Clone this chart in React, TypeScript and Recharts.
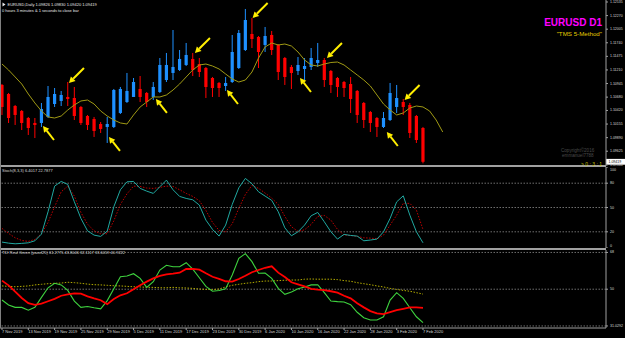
import React from 'react';
import { ComposedChart, Bar, Line, Scatter, XAxis, YAxis, ReferenceLine } from 'recharts';

// ---------- data ----------
const opens = [1.10917, 1.10741, 1.10507, 1.10410, 1.10273, 1.10176, 1.10176, 1.10293, 1.10546, 1.10605, 1.10683, 1.10663, 1.10488, 1.10312, 1.10254, 1.10156, 1.10098, 1.10098, 1.10371, 1.10585, 1.10683, 1.10839, 1.10761, 1.10683, 1.10780, 1.11014, 1.11151, 1.11209, 1.11307, 1.11424, 1.11326, 1.11248, 1.11053, 1.10956, 1.10897, 1.10975, 1.11248, 1.11599, 1.11911, 1.11853, 1.11697, 1.11892, 1.11697, 1.11443, 1.11268, 1.11190, 1.11229, 1.11268, 1.11346, 1.11404, 1.11190, 1.11053, 1.10975, 1.10936, 1.10800, 1.10566, 1.10390, 1.10273, 1.10098, 1.10234, 1.10488, 1.10585, 1.10527, 1.10312, 1.10078];
const highs = [1.10936, 1.10761, 1.10527, 1.10429, 1.10293, 1.10273, 1.10566, 1.10897, 1.10858, 1.10800, 1.10975, 1.10878, 1.10507, 1.10332, 1.10293, 1.10195, 1.10293, 1.10839, 1.10878, 1.11151, 1.11053, 1.11092, 1.10780, 1.10975, 1.11443, 1.11541, 1.11989, 1.11599, 1.11736, 1.11541, 1.11443, 1.11268, 1.11073, 1.10975, 1.11073, 1.11892, 1.11989, 1.12399, 1.12223, 1.11872, 1.12048, 1.11970, 1.11716, 1.11463, 1.11307, 1.11463, 1.11443, 1.11638, 1.11736, 1.11443, 1.11209, 1.11073, 1.10995, 1.11073, 1.10819, 1.10585, 1.10410, 1.10293, 1.10390, 1.10956, 1.10917, 1.10644, 1.10566, 1.10332, 1.10098];
const lows = [1.10332, 1.10176, 1.10137, 1.10039, 1.09942, 1.09883, 1.10098, 1.10273, 1.10488, 1.10507, 1.10507, 1.10234, 1.10137, 1.10039, 1.09903, 1.09981, 1.09786, 1.10078, 1.10351, 1.10566, 1.10683, 1.10585, 1.10488, 1.10624, 1.10761, 1.10975, 1.11014, 1.11190, 1.11287, 1.11092, 1.11073, 1.10663, 1.10683, 1.10683, 1.10800, 1.10956, 1.11229, 1.11580, 1.11638, 1.11248, 1.11560, 1.11502, 1.11014, 1.10917, 1.10839, 1.11112, 1.11014, 1.11209, 1.11268, 1.10878, 1.10761, 1.10683, 1.10683, 1.10371, 1.10176, 1.10078, 1.10000, 1.09903, 1.10078, 1.10215, 1.10371, 1.10332, 1.09883, 1.09786, 1.09389];
const closes = [1.10488, 1.10273, 1.10332, 1.10176, 1.10078, 1.10137, 1.10449, 1.10683, 1.10741, 1.10722, 1.10644, 1.10312, 1.10176, 1.10137, 1.10020, 1.10059, 1.10156, 1.10819, 1.10839, 1.10800, 1.10975, 1.10683, 1.10585, 1.10878, 1.11307, 1.11307, 1.11268, 1.11424, 1.11502, 1.11209, 1.11170, 1.10878, 1.10858, 1.10858, 1.10956, 1.11560, 1.11931, 1.12184, 1.11814, 1.11560, 1.11872, 1.11599, 1.11170, 1.11073, 1.11151, 1.11307, 1.11287, 1.11443, 1.11404, 1.11014, 1.10917, 1.10878, 1.10858, 1.10644, 1.10332, 1.10234, 1.10176, 1.10098, 1.10273, 1.10761, 1.10663, 1.10488, 1.09981, 1.09844, 1.09419];
// shifted moving average (extends 3 bars past the last candle)
const maValues = [1.11326, 1.11209, 1.11073, 1.10936, 1.10741, 1.10566, 1.10410, 1.10293, 1.10273, 1.10312, 1.10429, 1.10527, 1.10605, 1.10624, 1.10546, 1.10410, 1.10312, 1.10234, 1.10176, 1.10156, 1.10332, 1.10488, 1.10585, 1.10683, 1.10683, 1.10722, 1.10819, 1.10936, 1.11073, 1.11209, 1.11307, 1.11326, 1.11287, 1.11229, 1.11131, 1.11034, 1.10975, 1.11014, 1.11170, 1.11443, 1.11658, 1.11736, 1.11697, 1.11716, 1.11677, 1.11560, 1.11404, 1.11307, 1.11287, 1.11326, 1.11355, 1.11365, 1.11307, 1.11209, 1.11112, 1.11014, 1.10897, 1.10722, 1.10546, 1.10429, 1.10332, 1.10371, 1.10468, 1.10507, 1.10488, 1.10410, 1.10234, 1.10000];
const stochMain = [7.3, 6.0, 5.2, 5.7, 6.4, 8.9, 17.2, 44.7, 76.4, 82.2, 78.5, 57.0, 36.5, 21.2, 15.9, 14.3, 20.9, 50.9, 71.9, 81.7, 82.2, 73.6, 70.2, 67.4, 75.6, 83.8, 71.9, 63.7, 61.2, 59.5, 53.0, 34.4, 23.0, 14.7, 28.3, 53.8, 74.3, 85.9, 79.3, 69.4, 64.1, 58.8, 44.7, 24.9, 15.1, 20.0, 28.3, 39.8, 43.9, 32.3, 20.0, 11.0, 16.8, 15.5, 14.7, 8.9, 9.8, 11.0, 20.0, 36.5, 57.0, 64.4, 40.6, 20.0, 6.4];
const stochSignal = [24.2, 18.0, 12.6, 9.3, 8.1, 10.6, 17.6, 31.6, 50.9, 69.4, 76.4, 64.1, 43.9, 29.5, 21.2, 17.6, 17.6, 33.6, 53.8, 66.9, 76.4, 76.0, 74.0, 73.6, 74.8, 76.4, 76.0, 71.9, 67.4, 63.7, 58.3, 46.4, 31.6, 21.7, 20.0, 29.9, 48.9, 66.2, 77.3, 73.6, 67.8, 61.6, 53.8, 39.0, 26.2, 20.5, 22.5, 29.1, 39.0, 40.2, 34.4, 23.0, 15.9, 15.5, 14.3, 12.6, 12.2, 11.4, 15.9, 28.3, 40.6, 55.1, 55.1, 46.8, 22.8];
const tdiGreen = [44.7, 42.3, 41.1, 41.1, 39.7, 41.1, 46.0, 50.7, 52.9, 52.1, 49.4, 44.2, 41.1, 41.5, 40.9, 40.4, 44.4, 50.2, 56.1, 56.5, 57.6, 55.3, 50.9, 53.7, 59.4, 61.7, 61.0, 61.0, 63.0, 59.8, 55.6, 51.4, 49.0, 49.4, 50.2, 57.0, 65.1, 67.4, 63.5, 57.8, 57.9, 55.3, 50.4, 47.5, 48.6, 50.2, 51.1, 52.1, 52.2, 48.3, 44.2, 43.9, 43.7, 42.4, 38.7, 36.0, 34.9, 34.9, 36.5, 44.7, 48.3, 45.5, 40.9, 36.5, 33.6];
const tdiRed = [54.2, 51.9, 48.8, 45.7, 43.2, 42.3, 42.9, 44.1, 45.3, 46.8, 47.5, 48.0, 47.8, 46.5, 45.5, 44.6, 42.7, 45.2, 47.0, 48.0, 50.0, 51.9, 53.7, 55.3, 56.5, 57.3, 57.6, 58.1, 59.9, 60.0, 59.6, 57.8, 56.1, 55.1, 53.9, 53.7, 55.0, 56.6, 58.3, 59.4, 60.5, 61.2, 58.1, 56.0, 53.4, 52.4, 51.4, 50.2, 49.8, 49.6, 49.0, 48.3, 46.8, 45.5, 43.1, 41.1, 39.3, 38.2, 37.8, 38.8, 39.7, 40.4, 41.1, 41.1, 40.9];
const tdiBase = [51.6, 51.4, 51.2, 51.4, 51.6, 52.1, 52.4, 52.7, 52.9, 53.0, 53.4, 53.2, 52.9, 52.5, 52.2, 52.1, 51.9, 51.7, 51.6, 51.4, 51.2, 51.1, 50.9, 50.9, 50.7, 50.7, 50.9, 50.7, 50.6, 50.4, 50.1, 49.9, 49.8, 50.1, 51.1, 51.9, 52.4, 52.9, 53.2, 53.7, 54.0, 54.0, 54.2, 54.4, 54.5, 54.5, 54.9, 55.0, 54.9, 54.9, 54.9, 54.7, 54.2, 53.9, 53.2, 52.7, 52.2, 51.6, 51.1, 50.4, 49.9, 49.4, 49.0, 48.3, 47.6];

const priceTicks = [1.12535, 1.12270, 1.12005, 1.11740, 1.11475, 1.11210, 1.10945, 1.10680, 1.10420, 1.10155, 1.09890, 1.09625, 1.09360];
const stochTicks = [100, 80, 50, 20, 0];
const stochLevels = [80, 50, 20];
const tdiLevels = [68, 50, 32];
const tdiTicks = [68, 50, 32];
const tdiTickLabels = ['68', '50', '31.0292'];
const dateTickBars = [0, 4, 8, 12, 16, 20, 24, 28, 32, 36, 40, 44, 48, 52, 56, 60, 64];
const dateLabels = ['7 Nov 2019', '13 Nov 2019', '19 Nov 2019', '25 Nov 2019', '29 Nov 2019', '5 Dec 2019', '11 Dec 2019', '17 Dec 2019', '23 Dec 2019', '30 Dec 2019', '6 Jan 2020', '10 Jan 2020', '16 Jan 2020', '22 Jan 2020', '28 Jan 2020', '3 Feb 2020', '7 Feb 2020'];

// signal arrows (tip position: bar index, price)
const arrowBars = [6.23, 10.18, 16.26, 23.4, 29.33, 34.2, 38.1, 45.3, 49.4, 58.5, 61.2];
const arrowPrices = [1.10117, 1.10956, 1.09903, 1.10644, 1.11541, 1.10819, 1.12223, 1.11053, 1.11443, 1.10000, 1.10624];
const arrowSides = ['below', 'above', 'below', 'below', 'above', 'below', 'above', 'below', 'above', 'below', 'above'];

// ---------- styling ----------
const X_DOMAIN: [number, number] = [-0.304, 91.82];
const PRICE_DOMAIN: [number, number] = [1.09337, 1.12574];
const TDI_DOMAIN: [number, number] = [31.0, 69.2];
const BLUE = '#1e90ff';
const RED = '#ff0000';
const FRAME = '#a0a0a0';
const FONT = 'Liberation Sans, Arial, sans-serif';
const AXIS_W = 19;

const candleRows = opens.map((o, i) => ({ i, o, h: highs[i], l: lows[i], c: closes[i], range: [lows[i], highs[i]] }));
const maRows = maValues.map((ma, i) => ({ i, ma }));
const arrowRows = arrowBars.map((i, k) => ({ i, p: arrowPrices[k], side: arrowSides[k] }));
const stochRows = stochMain.map((m, i) => ({ i, m, s: stochSignal[i] }));
const tdiRows = tdiGreen.map((g, i) => ({ i, g, r: tdiRed[i], b: tdiBase[i] }));

const Candle = (props: any) => {
  const { x, y, width, height, payload } = props;
  if (!payload || height == null || isNaN(y)) return null;
  const cx = x + width / 2;
  const { o, h, l, c } = payload;
  const toY = (p: number) => y + ((h - p) / (h - l)) * height;
  const color = c >= o ? BLUE : RED;
  const top = toY(Math.max(o, c));
  const bot = toY(Math.min(o, c));
  return (
    <g>
      <rect x={cx - 0.5} y={y} width={1} height={height} fill={color} />
      <rect x={cx - 1.6} y={top} width={3.2} height={Math.max(bot - top, 1)} fill={color} />
    </g>
  );
};

const Arrow = (props: any) => {
  const { cx, cy, payload } = props;
  if (cx == null || cy == null) return null;
  const below = payload.side === 'below';
  const dx = below ? 11 : 15;
  const dy = below ? 14 : -15;
  const len = Math.hypot(dx, dy);
  const ux = dx / len;
  const uy = dy / len;
  const hl = 6;
  const hw = 3.3;
  const bx = cx + ux * hl;
  const by = cy + uy * hl;
  const px = -uy;
  const py = ux;
  return (
    <g>
      <line x1={cx + dx} y1={cy + dy} x2={bx} y2={by} stroke="#ffee00" strokeWidth={2} />
      <polygon points={`${cx},${cy} ${bx + px * hw},${by + py * hw} ${bx - px * hw},${by - py * hw}`} fill="#ffee00" />
    </g>
  );
};

const PriceTick = (props: any) => {
  const { x, y, payload } = props;
  return (
    <text x={x} y={y} fontSize={3.5} fontFamily={FONT} fill="#d8d8d8" textAnchor="start" dominantBaseline="central">
      {Number(payload.value).toFixed(5)}
    </text>
  );
};

const StochTick = (props: any) => {
  const { x, y, payload } = props;
  const v = payload.value;
  const dy = v === 100 ? 3 : v === 0 ? -2.5 : 0;
  return (
    <text x={x} y={y + dy} fontSize={3.6} fontFamily={FONT} fill="#d8d8d8" textAnchor="start" dominantBaseline="central">
      {v}
    </text>
  );
};

const TdiTick = (props: any) => {
  const { x, y, payload } = props;
  const k = tdiTicks.indexOf(payload.value);
  const dy = k === 2 ? 0.5 : 0;
  return (
    <text x={x} y={y + dy} fontSize={3.6} fontFamily={FONT} fill="#d8d8d8" textAnchor="start" dominantBaseline="central">
      {tdiTickLabels[k]}
    </text>
  );
};

const DateTick = (props: any) => {
  const { x, y, payload } = props;
  const k = dateTickBars.indexOf(payload.value);
  return (
    <text x={x} y={y} fontSize={4} fontFamily={FONT} fill="#d8d8d8" textAnchor="start" dominantBaseline="central">
      {dateLabels[k]}
    </text>
  );
};

const PriceBox = (props: any) => {
  const vb = props.viewBox;
  if (!vb) return null;
  const xr = vb.x + vb.width;
  return (
    <g>
      <rect x={xr} y={vb.y - 2.9} width={AXIS_W} height={5.8} fill="#ffffff" />
      <text x={xr + 2.5} y={vb.y} fontSize={3.5} fontFamily={FONT} fill="#000" dominantBaseline="central">
        {props.text}
      </text>
    </g>
  );
};

const panel = (top: number, height: number): React.CSSProperties => ({ position: 'absolute', left: 0, top, width: 625, height });

export default function App() {
  const lastClose = closes[closes.length - 1];
  return (
    <div style={{ position: 'fixed', left: 0, top: 0, width: 625, height: 338, background: '#000', overflow: 'hidden' }}>
      {/* main price panel */}
      <div style={panel(0, 166)}>
        <ComposedChart width={625} height={166} data={candleRows} margin={{ top: 0, right: 0, bottom: 0, left: 0 }}>
          <XAxis dataKey="i" type="number" domain={X_DOMAIN} allowDataOverflow hide />
          <YAxis
            orientation="right"
            width={AXIS_W}
            type="number"
            domain={PRICE_DOMAIN}
            allowDataOverflow
            ticks={priceTicks}
            interval={0}
            tick={<PriceTick />}
            tickSize={2}
            tickMargin={2}
            axisLine={{ stroke: FRAME }}
            tickLine={{ stroke: FRAME }}
          />
          <Bar dataKey="range" barSize={3} shape={<Candle />} isAnimationActive={false} />
          <Line data={maRows} dataKey="ma" stroke="#a09a14" strokeWidth={1} dot={false} isAnimationActive={false} />
          <Scatter data={arrowRows} dataKey="p" shape={<Arrow />} isAnimationActive={false} />
          <ReferenceLine y={lastClose} stroke="none" label={<PriceBox text={lastClose.toFixed(5)} />} />
        </ComposedChart>
      </div>
      <div style={{ position: 'absolute', left: 0, top: 165, width: 606, height: 2, background: FRAME }} />

      {/* stochastic panel */}
      <div style={panel(167, 81)}>
        <ComposedChart width={625} height={81} data={stochRows} margin={{ top: 0, right: 0, bottom: 0, left: 0 }}>
          <XAxis dataKey="i" type="number" domain={X_DOMAIN} allowDataOverflow hide />
          <YAxis
            orientation="right"
            width={AXIS_W}
            type="number"
            domain={[0, 100]}
            allowDataOverflow
            ticks={stochTicks}
            interval={0}
            tick={<StochTick />}
            tickSize={2}
            tickMargin={2}
            axisLine={{ stroke: FRAME }}
            tickLine={{ stroke: FRAME }}
          />
          {stochLevels.map((v) => (
            <ReferenceLine key={v} y={v} stroke="#8a8a8a" strokeDasharray="1.5 1.5" strokeWidth={0.8} />
          ))}
          <Line dataKey="s" stroke="#c00000" strokeWidth={1} strokeDasharray="1.5 1.5" dot={false} isAnimationActive={false} />
          <Line dataKey="m" stroke="#20a8a0" strokeWidth={1} dot={false} isAnimationActive={false} />
        </ComposedChart>
      </div>
      <div style={{ position: 'absolute', left: 0, top: 248, width: 606, height: 2, background: FRAME }} />

      {/* TDI panel */}
      <div style={panel(250, 88)}>
        <ComposedChart width={625} height={88} data={tdiRows} margin={{ top: 0, right: 0, bottom: 0, left: 0 }}>
          <XAxis
            dataKey="i"
            type="number"
            domain={X_DOMAIN}
            allowDataOverflow
            ticks={dateTickBars}
            interval={0}
            height={10}
            tick={<DateTick />}
            tickSize={2}
            tickMargin={1.5}
            axisLine={{ stroke: FRAME }}
            tickLine={{ stroke: FRAME }}
          />
          <YAxis
            orientation="right"
            width={AXIS_W}
            type="number"
            domain={TDI_DOMAIN}
            allowDataOverflow
            ticks={tdiTicks}
            interval={0}
            tick={<TdiTick />}
            tickSize={2}
            tickMargin={2}
            axisLine={{ stroke: FRAME }}
            tickLine={{ stroke: FRAME }}
          />
          {tdiLevels.map((v) => (
            <ReferenceLine key={v} y={v} stroke="#8a8a8a" strokeDasharray="1.5 1.5" strokeWidth={0.8} />
          ))}
          <Line dataKey="b" stroke="#b4ac00" strokeWidth={1} strokeDasharray="1.5 1.5" dot={false} isAnimationActive={false} />
          <Line dataKey="g" stroke="#3ed23e" strokeWidth={1.1} dot={false} isAnimationActive={false} />
          <Line dataKey="r" stroke="#ff0000" strokeWidth={1.8} dot={false} isAnimationActive={false} />
        </ComposedChart>
      </div>

      {/* left frame */}
      <div style={{ position: 'absolute', left: 0, top: 0, width: 1, height: 328, background: '#808080' }} />

      {/* text overlay */}
      <svg width={625} height={338} style={{ position: 'absolute', left: 0, top: 0, pointerEvents: 'none' }}>
        <g fontFamily={FONT}>
          <polygon points="2.5,2.5 5.5,4.5 2.5,6.5" fill="#e8e8e8" />
          <text x={7.5} y={4.6} fontSize={4} fill="#e8e8e8" dominantBaseline="central">EURUSD,Daily  1.09826 1.09830 1.09420 1.09419</text>
          <text x={2} y={10.2} fontSize={4} fill="#e8e8e8" dominantBaseline="central">0 hours 3 minutes &amp; 1 seconds to close bar</text>
          <text x={602} y={26} fontSize={10} fontWeight="bold" fill="#ff00ff" textAnchor="end">EURUSD D1</text>
          <text x={602} y={36} fontSize={6.2} fill="#e6cc00" textAnchor="end">"TMS 5-Method"</text>
          <text x={561} y={151.5} fontSize={4.6} fill="#4a4a4a">Copyright©2016</text>
          <text x={562} y={157.3} fontSize={4.6} fill="#4a4a4a">emmanuel7788</text>
          <text x={602} y={163.6} fontSize={5} fill="#c8c000" textAnchor="end" dominantBaseline="central">&gt;  0 : 3 : 1</text>
          <text x={2} y={170} fontSize={4} fill="#d8d8d8" dominantBaseline="central">Stoch(8,3,3) 6.4017 22.7877</text>
          <text x={2} y={252.8} fontSize={4} fill="#d8d8d8" dominantBaseline="central">TDI Real Green (pavel25) 61.2775 43.8046 32.1117 33.6059 40.9222</text>
        </g>
      </svg>
    </div>
  );
}
